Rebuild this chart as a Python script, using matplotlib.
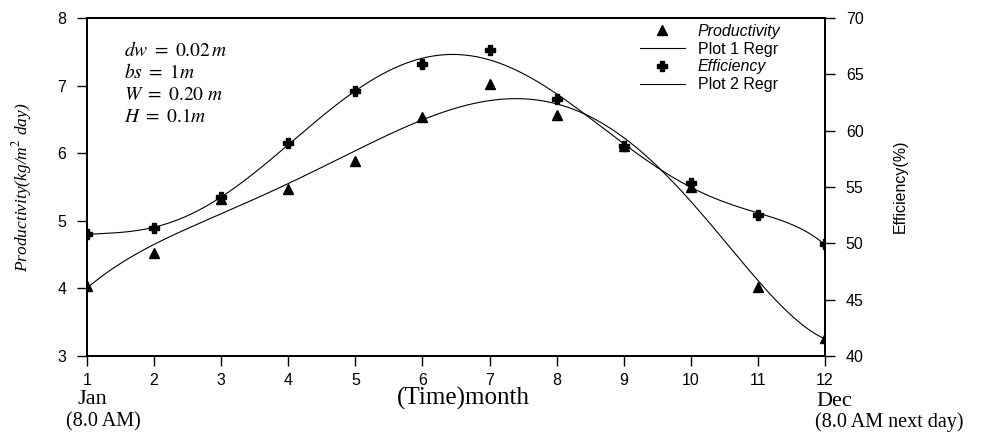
import numpy as np
import matplotlib
matplotlib.use("Agg")
import matplotlib.pyplot as plt
from matplotlib.lines import Line2D

months = np.arange(1, 13)
productivity = [4.03, 4.52, 5.33, 5.47, 5.88, 6.54, 7.02, 6.56, 6.10, 5.50, 4.02, 3.27]
efficiency = [50.8, 51.4, 54.1, 58.9, 63.5, 65.9, 67.2, 62.8, 58.6, 55.4, 52.5, 49.9]
xticks = list(range(1, 13))
left_ticks = [3, 4, 5, 6, 7, 8]
right_ticks = [40, 45, 50, 55, 60, 65, 70]

plt.rcParams['mathtext.fontset'] = 'stix'
sans = 'Liberation Sans'
serif = 'Liberation Serif'

fig = plt.figure(figsize=(9.84, 4.33), dpi=100)
ax = fig.add_axes([0.0884, 0.1778, 0.75, 0.7806])
ax2 = ax.twinx()

# polynomial regression fits of the data
xs = np.linspace(1, 12, 400)
p1 = np.polyfit(months, productivity, 6)
p2 = np.polyfit(months, efficiency, 7)

ax.plot(months, productivity, linestyle='none', marker='^', color='black', markersize=7.5)
ax.plot(xs, np.polyval(p1, xs), color='black', linewidth=0.8)
ax2.plot(months, efficiency, linestyle='none', marker='P', color='black', markersize=7.5)
ax2.plot(xs, np.polyval(p2, xs), color='black', linewidth=0.8)

ax.set_xlim(1, 12)
ax.set_ylim(3, 8)
ax2.set_ylim(40, 70)
ax.set_xticks(xticks)
ax.set_yticks(left_ticks)
ax2.set_yticks(right_ticks)

for a in (ax, ax2):
    a.tick_params(direction='out', length=7, width=1, labelsize=11.5)
    for lbl in a.get_xticklabels() + a.get_yticklabels():
        lbl.set_family(sans)
    for s in a.spines.values():
        s.set_linewidth(1.3)
ax.tick_params(axis='x', pad=5)
ax.tick_params(axis='y', pad=8)
ax2.tick_params(axis='y', pad=8)

fig.text(22 / 984, 1 - 187 / 433, r'Productivity(kg/m$^2$ day)', fontstyle='italic', family=serif,
         fontsize=12.5, rotation=90, ha='center', va='center')
fig.text(900 / 984, 1 - 186 / 433, 'Efficiency(%)', family=sans, fontsize=11.5, rotation=90,
         ha='center', va='center')

fig.text(92 / 984, 1 - 400 / 433, 'Jan', family=serif, fontsize=16, ha='center', va='center')
fig.text(103 / 984, 1 - 422 / 433, '(8.0 AM)', family=serif, fontsize=14.5, ha='center', va='center')
fig.text(463 / 984, 1 - 398 / 433, '(Time)month', family=serif, fontsize=18, ha='center', va='center')
fig.text(834 / 984, 1 - 401 / 433, 'Dec', family=serif, fontsize=16, ha='center', va='center')
fig.text(889 / 984, 1 - 422 / 433, '(8.0 AM next day)', family=serif, fontsize=14.5, ha='center', va='center')

params = [r'$dw\ =\ 0.02\,m$', r'$bs\ =\ 1m$', r'$W\ =\ 0.20\ m$', r'$H\ =\ 0.1m$']
for i, t in enumerate(params):
    fig.text(124 / 984, 1 - (50 + 22 * i) / 433, t, fontsize=14, ha='left', va='center')

handles = [
    Line2D([], [], linestyle='none', marker='^', color='black', markersize=7.5),
    Line2D([], [], color='black', linewidth=0.8),
    Line2D([], [], linestyle='none', marker='P', color='black', markersize=7.5),
    Line2D([], [], color='black', linewidth=0.8),
]
labels = ['Productivity', 'Plot 1 Regr', 'Efficiency', 'Plot 2 Regr']
leg = ax2.legend(handles, labels, loc='upper left', bbox_to_anchor=(640 / 984, 1 - 24 / 433),
                 bbox_transform=fig.transFigure, frameon=False, handlelength=2.8,
                 handletextpad=0.8, labelspacing=0.17, borderpad=0, borderaxespad=0,
                 prop={'family': sans, 'size': 11.5})
for txt, lab in zip(leg.get_texts(), labels):
    if lab in ('Productivity', 'Efficiency'):
        txt.set_fontstyle('italic')

fig.savefig('out.png', dpi=100)
